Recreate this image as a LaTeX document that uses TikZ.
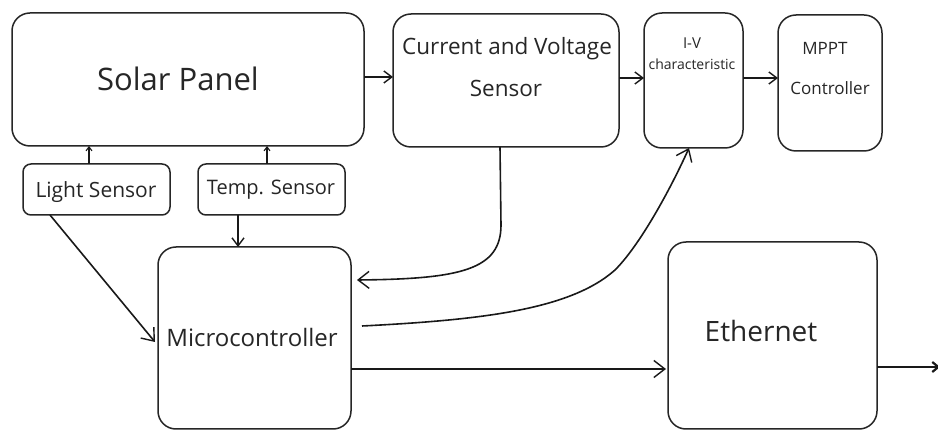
\documentclass[tikz,border=0pt]{standalone}
\usepackage{fontspec}
\setmainfont{Open Sans}
\usetikzlibrary{arrows.meta}
\begin{document}
\begin{tikzpicture}[x=1pt,y=-1pt,
  box/.style={draw=black!85, line width=1.5pt, rounded corners=18pt, inner sep=0pt, outer sep=0pt},
  sbox/.style={draw=black!85, line width=1.5pt, rounded corners=8pt, inner sep=0pt, outer sep=0pt},
  txt/.style={anchor=base, inner sep=0pt, text=black!85},
  conn/.style={draw=black!90, line width=1.6pt},
  bigarr/.style={conn, -{Straight Barb[length=11pt,width=17pt,line width=1.4pt]}},
  midarr/.style={conn, -{Straight Barb[length=8pt,width=12pt,line width=1.4pt]}},
  tinyarr/.style={conn, line width=1.2pt, -{Straight Barb[length=4pt,width=6pt,line width=1.1pt]}}
]
\useasboundingbox (0,0) rectangle (938,430);
\fill[white] (0,0) rectangle (938,430);

% boxes
\node[box, minimum width=352pt, minimum height=133pt] (solar) at (188,79.5) {};
\node[sbox, minimum width=147pt, minimum height=51pt] (light) at (96.5,189.5) {};
\node[sbox, minimum width=147pt, minimum height=51pt] (temp) at (271.5,189.5) {};
\node[box, minimum width=226pt, minimum height=133pt] (cvs) at (506,80.5) {};
\node[box, minimum width=99pt, minimum height=135pt] (iv) at (693.5,80.5) {};
\node[box, minimum width=104pt, minimum height=136pt] (mppt) at (830,83) {};
\node[box, minimum width=193pt, minimum height=182pt] (micro) at (254.5,338) {};
\node[box, minimum width=209pt, minimum height=187pt] (eth) at (772.5,335.5) {};

% texts
\node[txt, font=\fontsize{31}{31}\selectfont] (tsolar) at (178,91) {Solar Panel};
\node[txt, font=\fontsize{21}{21}\selectfont] (tlight) at (96,198) {Light Sensor};
\node[txt, font=\fontsize{20}{20}\selectfont] (ttemp) at (271,195) {Temp. Sensor};
\node[txt, font=\fontsize{22.5}{22.5}\selectfont] (tcvs1) at (507,55) {Current and Voltage};
\node[txt, font=\fontsize{22.5}{22.5}\selectfont] (tcvs2) at (506,97) {Sensor};
\node[txt, font=\fontsize{15}{15}\selectfont] (tiv1) at (692,49) {I-V};
\node[txt, font=\fontsize{14}{14}\selectfont] (tiv2) at (692,70) {characteristic};
\node[txt, font=\fontsize{17}{17}\selectfont] (tmppt1) at (825,55) {MPPT};
\node[txt, font=\fontsize{17}{17}\selectfont] (tmppt2) at (830,95) {Controller};
\node[txt, font=\fontsize{24}{24}\selectfont] (tmicro) at (252,347) {Microcontroller};
\node[txt, font=\fontsize{28}{28}\selectfont] (teth) at (761,342) {Ethernet};

% connectors
\draw[midarr] (solar.east |- 0,77) -- (cvs.west |- 0,77);
\draw[midarr] (cvs.east |- 0,78) -- (iv.west |- 0,78);
\draw[midarr] (iv.east |- 0,78) -- (mppt.west |- 0,78);
\draw[tinyarr] (light.north -| 89,0) -- (solar.south -| 89,0);
\draw[tinyarr] (temp.north -| 267,0) -- (solar.south -| 267,0);
\draw[bigarr] (light.south -| 50,0) -- ([xshift=-3pt]micro.west |- 0,342);
\draw[midarr] (temp.south -| 238,0) -- (micro.north -| 238,0);
\coordinate (cvsbend) at (501,225);
\draw[bigarr] (cvs.south -| 500,0) -- (cvsbend) .. controls (501,270) and (460,279) .. ([xshift=6pt]micro.east |- 0,280);
\coordinate (mstart) at ([xshift=11pt]micro.east |- 0,326);
\draw[bigarr] (mstart) .. controls (480,320) and (570,310) .. (615,270) .. controls (640,245) and (670,190) .. (iv.south -| 689,0);
\draw[bigarr] (micro.east |- 0,369) -- ([xshift=-2pt]eth.west |- 0,369);
\coordinate (out) at (940,367);
\draw[conn, line width=2.8pt, -{Straight Barb[length=6pt,width=10pt,line width=2.2pt]}] (eth.east |- 0,367) -- (out);
\end{tikzpicture}
\end{document}
